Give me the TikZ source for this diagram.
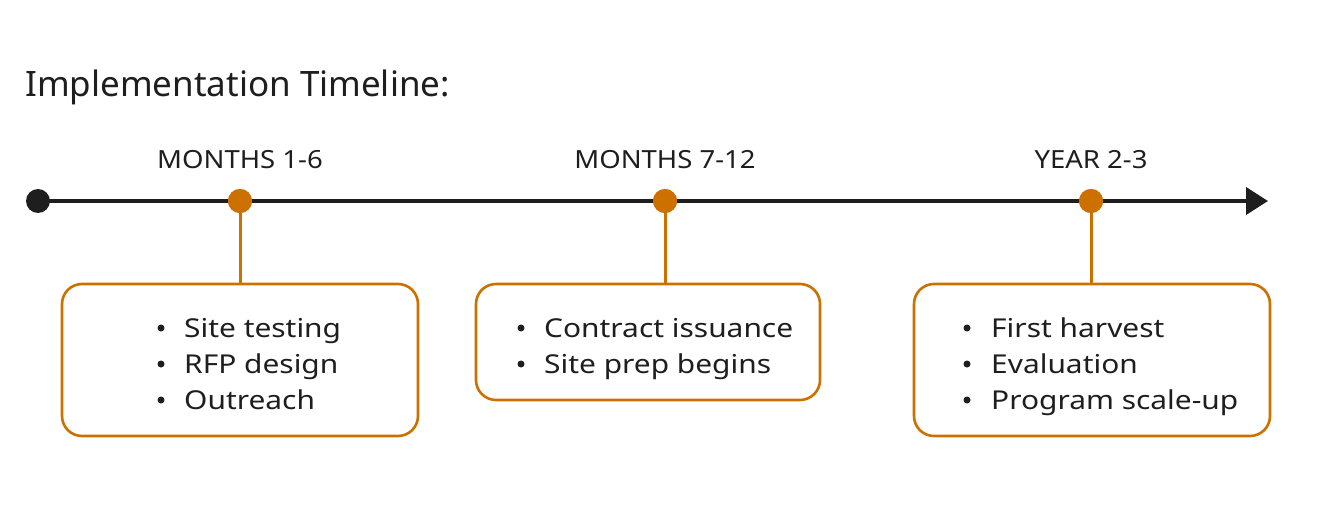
\documentclass[tikz,border=0pt]{standalone}
\usepackage{fontspec}
\setmainfont{Noto Sans}
\newfontfamily\wideA[FakeStretch=1.15]{Noto Sans}
\newfontfamily\wideB[FakeStretch=1.10]{Noto Sans}
\usetikzlibrary{arrows.meta}
\definecolor{accent}{RGB}{204,112,0}
\definecolor{ink}{RGB}{30,30,30}
\begin{document}
\begin{tikzpicture}[x=1pt,y=-1pt,
  phasebox/.style={draw=accent,line width=2.6pt,rounded corners=20pt,fill=white},
  dotmark/.style={circle,fill=accent,inner sep=0pt,minimum size=24pt},
  phaselabel/.style={anchor=base,font=\wideB\fontsize{25}{30}\selectfont,text=ink},
  itemtext/.style={anchor=base west,font=\wideA\fontsize{26}{30}\selectfont,text=ink,inner sep=0pt},
  bul/.style={circle,fill=ink,inner sep=0pt,minimum size=7pt}]
\useasboundingbox (0,0) rectangle (1317,516);
\node[anchor=base west,inner sep=0pt,font=\fontsize{35}{40}\selectfont,text=ink] (title) at (25,97) {Implementation Timeline:};
% timeline
\node[circle,fill=ink,inner sep=0pt,minimum size=24pt] (start) at (38,201) {};
\coordinate (end) at (1268,201);
\draw[ink,line width=4pt,-{Triangle[length=22pt,width=27pt]}] (start.center) -- (end);
% phase points
\node[dotmark] (p1) at (240,201) {};
\node[dotmark] (p2) at (665,201) {};
\node[dotmark] (p3) at (1091,201) {};
\node[phaselabel] (l1) at (240,168) {MONTHS 1-6};
\node[phaselabel] (l2) at (665,168) {MONTHS 7-12};
\node[phaselabel] (l3) at (1091,168) {YEAR 2-3};
% boxes
\path[phasebox] (62,284) rectangle (418,436);
\path[phasebox] (476,284) rectangle (820,400);
\path[phasebox] (914,284) rectangle (1270,436);
\coordinate (b1) at (240,284);
\coordinate (b2) at (665,284);
\coordinate (b3) at (1091,284);
\draw[accent,line width=3pt] (p1.center) -- (b1);
\draw[accent,line width=3pt] (p2.center) -- (b2);
\draw[accent,line width=3pt] (p3.center) -- (b3);
\node[dotmark] at (240,201) {};
\node[dotmark] at (665,201) {};
\node[dotmark] at (1091,201) {};
% box 1
\node[bul] (u11) at (161,328) {};
\node[bul] (u12) at (161,364) {};
\node[bul] (u13) at (161,400) {};
\node[itemtext] (t11) at (184,337) {Site testing};
\node[itemtext] (t12) at (184,373) {RFP design};
\node[itemtext] (t13) at (184,409) {Outreach};
% box 2
\node[bul] (u21) at (521,328) {};
\node[bul] (u22) at (521,364) {};
\node[itemtext] (t21) at (544,337) {Contract issuance};
\node[itemtext] (t22) at (544,373) {Site prep begins};
% box 3
\node[bul] (u31) at (967,328) {};
\node[bul] (u32) at (967,364) {};
\node[bul] (u33) at (967,400) {};
\node[itemtext] (t31) at (991,337) {First harvest};
\node[itemtext] (t32) at (991,373) {Evaluation};
\node[itemtext] (t33) at (991,409) {Program scale-up};
\end{tikzpicture}
\end{document}
